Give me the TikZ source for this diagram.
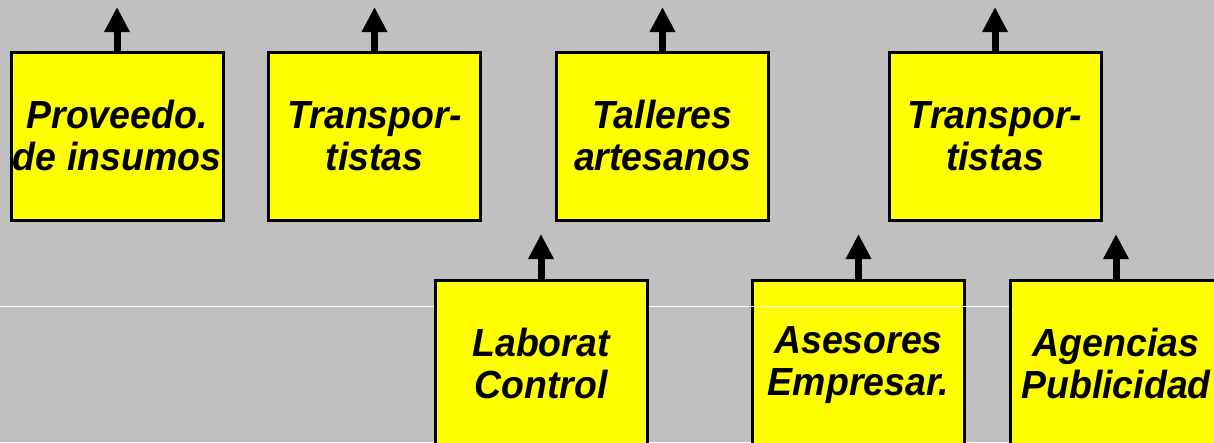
\documentclass[tikz,border=0pt]{standalone}
\usepackage{fontspec}
\setmainfont{Liberation Sans}
\newfontfamily\boxfont[FakeStretch=0.955]{Liberation Sans}
\usetikzlibrary{arrows.meta}
\definecolor{bggray}{HTML}{C0C0C0}
\definecolor{boxyellow}{HTML}{FFFF00}
\newcommand{\lnstrut}{\rule[-4pt]{0pt}{34pt}}
\tikzset{
  box/.style={draw=black, line width=3pt, fill=boxyellow, minimum width=212pt, minimum height=168pt,
    inner sep=0pt, align=center, font=\boxfont\fontsize{39.2}{42}\selectfont\bfseries\itshape},
  uparrow/.style={line width=7pt, -{Triangle[width=24pt,length=25pt]}}
}
\begin{document}
\begin{tikzpicture}[x=1pt,y=-1pt]
\useasboundingbox (0,0) rectangle (1214,442);
\clip (0,0) rectangle (1214,442);
\fill[bggray] (0,0) rectangle (1214,442);
% top row
\node[box] (b1) at (117,136) {\lnstrut Proveedo.\\\lnstrut de insumos};
\node[box] (b2) at (374.5,136) {\lnstrut Transpor-\\\lnstrut tistas};
\node[box] (b3) at (662.5,136) {\lnstrut Talleres\\\lnstrut artesanos};
\node[box] (b4) at (995,136) {\lnstrut Transpor-\\\lnstrut tistas};
% bottom row
\node[box] (b6) at (858.5,364) {\lnstrut Asesores\\\lnstrut Empresar.};
\coordinate (wl) at (0,306.5);
\coordinate (wr) at (1214,306.5);
\draw[white, line width=1.2pt] (wl) -- (wr);
\node[box] (b5) at (541,364) {\lnstrut Laborat\\\lnstrut Control};
\node[box] (b7) at (1116,364) {\lnstrut Agencias\\\lnstrut Publicidad};
% arrow tips
\coordinate (t1) at (117,7);
\coordinate (t2) at (374.5,7);
\coordinate (t3) at (662.5,7);
\coordinate (t4) at (995,7);
\coordinate (t5) at (541,234);
\coordinate (t6) at (858.5,234);
\coordinate (t7) at (1116,234);
\draw[uparrow] (b1.north) -- (t1);
\draw[uparrow] (b2.north) -- (t2);
\draw[uparrow] (b3.north) -- (t3);
\draw[uparrow] (b4.north) -- (t4);
\draw[uparrow] (b5.north) -- (t5);
\draw[uparrow] (b6.north) -- (t6);
\draw[uparrow] (b7.north) -- (t7);
\end{tikzpicture}
\end{document}
